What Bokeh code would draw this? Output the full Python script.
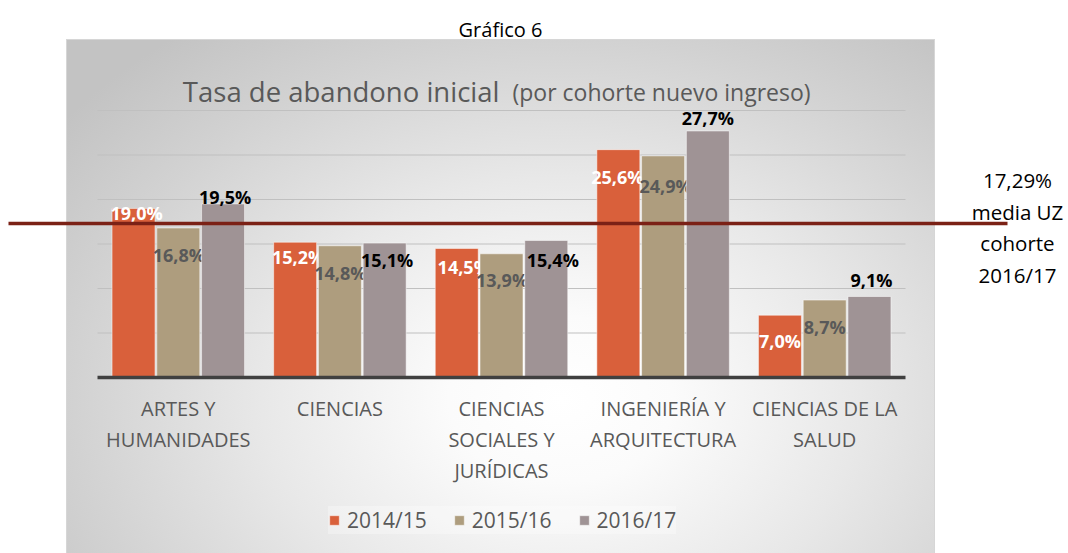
from bokeh.plotting import figure
from bokeh.models import (Range1d, Legend, LegendItem, Label, ColumnDataSource, LinearScale)
from bokeh.transform import dodge
from bokeh.core.properties import value, field
from bokeh.embed import file_html
from bokeh.resources import INLINE

# ---------------- data ----------------
categories = ["ARTES Y\nHUMANIDADES", "CIENCIAS", "CIENCIAS\nSOCIALES Y\nJURÍDICAS",
              "INGENIERÍA Y\nARQUITECTURA", "CIENCIAS DE LA\nSALUD"]
series_names = ["2014/15", "2015/16", "2016/17"]
v_2014 = [19.0, 15.2, 14.5, 25.6, 7.0]
v_2015 = [16.8, 14.8, 13.9, 24.9, 8.7]
v_2016 = [19.5, 15.1, 15.4, 27.7, 9.1]
media_uz = 17.29
grid_ticks = [5, 10, 15, 20, 25, 30]
y_max = 30

# ---------------- styles / layout ----------------
colors = ["#D9603B", "#AE9D7E", "#9F9395"]
label_colors = ["#FFFFFF", "#595959", "#000000"]
offsets = [-0.277, 0.0, 0.277]
# manual label nudges (pixels) as in the original chart
label_dx = [[3, 3, 7, -1, 0], [0.5, 0.5, 0.5, 2.5, 0], [2, 2.5, 6.5, 0, 2]]
label_dy = [[4.5, 15, 19, 27, 26], [27.5, 27, 26, 30, 27], [-7, 17, 20, -12.5, -17]]
FONT = "Open Sans"

W, H = 1068, 553
PL, PW, PB, PH = 97, 808, 377, 267      # plot area (pixels)
n = len(categories)
unit = PW / n
cat_pos = list(range(1, n + 1))

def x_at(px):  # pixel column -> category units
    return 0.5 + (px - PL) / unit

p = figure(x_range=Range1d(x_at(0), x_at(W)),
           y_range=Range1d(-(H - PB) * y_max / PH, PB * y_max / PH),
           width=W, height=H, output_backend="svg", toolbar_location=None, title=None,
           x_axis_location=None, y_axis_location=None, min_border=0,
           background_fill_color=None, border_fill_color=None, outline_line_color=None)

p.styles = {
    "background": (
        "radial-gradient(72% 90% at 57% 70%, #ffffff 0%, #fbfbfb 18%, #e8e8e8 48%, "
        "#d2d2d2 78%, #c3c3c3 100%) 67px 40px / 867px 513px no-repeat, "
        "linear-gradient(#d6d6d6, #d6d6d6) 66px 39px / 869px 514px no-repeat"
    )
}

# pixel-coordinate helper ranges for text decorations
p.extra_x_ranges = {"px": Range1d(0, W)}
p.extra_x_scales = {"px": LinearScale()}
p.extra_y_ranges = {"py": Range1d(H, 0)}
p.extra_y_scales = {"py": LinearScale()}

p.xgrid.grid_line_color = None
p.ygrid.grid_line_color = None

# horizontal gridlines over the category span
p.segment(x0=0.5, x1=n + 0.5, y0=grid_ticks, y1=grid_ticks, line_color="#c0c0c0",
          line_width=1.2, level="underlay")

series = [v_2014, v_2015, v_2016]
renderers = []
for i, vals in enumerate(series):
    src = ColumnDataSource(dict(
        pos=cat_pos, val=vals,
        txt=[f"{v:.1f}%".replace(".", ",") for v in vals],
        dx=label_dx[i], dy=label_dy[i]))
    r = p.vbar(x=dodge("pos", offsets[i]), top="val", width=0.266,
               source=src, fill_color=colors[i], line_color="#ffffff", line_alpha=0.5,
               line_width=1)
    renderers.append(r)
    p.text(x=dodge("pos", offsets[i]), y="val", text="txt", source=src,
           x_offset=field("dx"), y_offset=field("dy"), text_align="center",
           text_baseline="middle", text_font=value(FONT), text_font_style="bold",
           text_font_size="18px", text_color=label_colors[i])

# category axis: baseline and labels
p.segment(x0=0.5, x1=n + 0.5, y0=0, y1=0, line_color="#404040", line_width=3.5)
cat_src = ColumnDataSource(dict(pos=cat_pos, name=categories))
p.text(x="pos", y=0, text="name", source=cat_src, y_offset=17, text_align="center",
       text_baseline="top", text_font=value(FONT), text_font_size="20px",
       text_color="#595959", text_line_height=1.15)

# mean line (media UZ)
p.segment(x0=x_at(8), x1=x_at(1007), y0=media_uz, y1=media_uz,
          line_color="#7B2116", line_width=3.5)

# texts
def lab(x, y, text, size, color, align="center", baseline="alphabetic", lh=1.2):
    p.add_layout(Label(x=x, y=y, x_range_name="px", y_range_name="py", text=text,
                       text_align=align, text_baseline=baseline, text_font=FONT,
                       text_font_size=size, text_color=color, text_line_height=lh))

lab(500, 29, "Gráfico 6", "20px", "#000000")
lab(499, 91, "Tasa de abandono inicial", "27.5px", "#595959", align="right")
lab(512, 91, "(por cohorte nuevo ingreso)", "23px", "#595959", align="left")
mean_txt = f"{media_uz:.2f}%".replace(".", ",") + "\nmedia UZ\ncohorte\n2016/17"
lab(1017, 227, mean_txt, "20.5px", "#000000", baseline="middle", lh=1.14)

legend = Legend(items=[LegendItem(label=nm, renderers=[r]) for nm, r in zip(series_names, renderers)],
                orientation="horizontal", location=(328, 19), glyph_width=12,
                glyph_height=12, label_standoff=7, spacing=26, padding=14, margin=0,
                border_line_color=None, background_fill_color="#ffffff",
                background_fill_alpha=0.3, label_text_font=FONT,
                label_text_font_size="21px", label_text_color="#595959")
p.add_layout(legend, "center")

open("out.html", "w").write(file_html(p, INLINE))
